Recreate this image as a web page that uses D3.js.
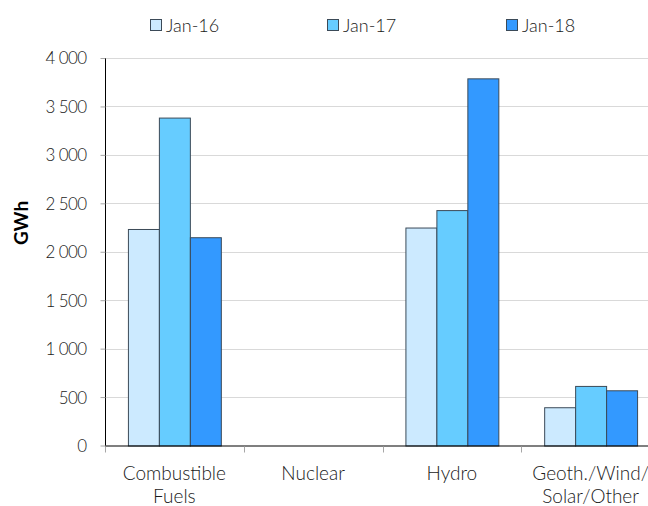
<!DOCTYPE html>
<html><head><meta charset="utf-8">
<script src="https://cdn.jsdelivr.net/npm/d3@7"></script>
<style>
html,body{margin:0;padding:0;background:#fff;}
svg{display:block;}
text{font-family:"Lato","Open Sans",sans-serif;}
</style></head><body>
<svg id="chart" width="648" height="506"></svg>
<script>
const categories = ["Combustible Fuels", "Nuclear", "Hydro", "Geoth./Wind/ Solar/Other"];
const categoryLines = [["Combustible","Fuels"],["Nuclear"],["Hydro"],["Geoth./Wind/","Solar/Other"]];
const series = ["Jan-16", "Jan-17", "Jan-18"];
const jan16 = [2235, 0, 2250, 395];
const jan17 = [3385, 0, 2430, 615];
const jan18 = [2150, 0, 3790, 570];
const yTicks = [0, 500, 1000, 1500, 2000, 2500, 3000, 3500, 4000];
const colors = ["#cceaff", "#66ccff", "#3399ff"];

(function(){
const values = [jan16, jan17, jan18];
const svg = d3.select("#chart");
const mLeft = 105, mRight = 660, mTop = 58, mBottom = 445.5;

const x = d3.scaleBand().domain(categories).range([mLeft, mRight]).paddingInner(0).paddingOuter(0);
const xs = d3.scaleBand().domain(series).range([0, x.bandwidth()]).paddingInner(0).paddingOuter(0.74);
const y = d3.scaleLinear().domain([0, 4000]).range([mBottom, mTop]);
const fmt = d3.formatLocale({decimal: ".", thousands: " ", grouping: [3], currency: ["", ""]}).format(",");

// gridlines
svg.append("g").selectAll("line").data(yTicks.filter(d => d > 0)).join("line")
  .attr("x1", mLeft).attr("x2", 648)
  .attr("y1", d => Math.round(y(d)) + 0.5).attr("y2", d => Math.round(y(d)) + 0.5)
  .attr("stroke", "#d9d9d9").attr("stroke-width", 1.2);

// bars
const rows = [];
categories.forEach((c, i) => series.forEach((s, j) => rows.push({c, s, j, v: values[j][i]})));
svg.append("g").selectAll("rect").data(rows.filter(d => d.v > 0)).join("rect")
  .attr("x", d => x(d.c) + xs(d.s) + 0.5)
  .attr("y", d => y(d.v) + 0.5)
  .attr("width", xs.bandwidth())
  .attr("height", d => y(0) - y(d.v))
  .attr("fill", d => colors[d.j])
  .attr("stroke", "#3b4a58").attr("stroke-width", 1);

// y axis
const yAxis = d3.axisLeft(y).tickValues(yTicks).tickFormat(fmt).tickSize(5).tickPadding(14);
const gy = svg.append("g").attr("transform", `translate(${mLeft + 0.5},0)`).call(yAxis);
gy.select(".domain").attr("stroke", "#000").attr("d", `M0,${mTop}V${mBottom}`);
gy.selectAll(".tick line").attr("stroke", "#a6a6a6");
gy.selectAll(".tick text").attr("font-size", 17).attr("font-weight", 300).attr("fill", "#1a1a1a")
  .attr("letter-spacing", -0.6).attr("dy", "0.35em");

// x axis line and ticks
svg.append("line").attr("x1", mLeft).attr("x2", 648).attr("y1", mBottom + 0.5).attr("y2", mBottom + 0.5)
  .attr("stroke", "#000").attr("stroke-width", 1.2);
svg.append("g").selectAll("line").data(categories).join("line")
  .attr("x1", d => Math.round(x(d)) + 0.5).attr("x2", d => Math.round(x(d)) + 0.5)
  .attr("y1", mBottom + 1).attr("y2", mBottom + 7)
  .attr("stroke", "#a6a6a6");

// category labels
const xl = svg.append("g");
categories.forEach((c, i) => {
  const t = xl.append("text").attr("x", x(c) + x.bandwidth() / 2).attr("y", 480)
    .attr("text-anchor", "middle").attr("font-size", 19).attr("font-weight", 300).attr("fill", "#1a1a1a");
  categoryLines[i].forEach((ln, k) => {
    t.append("tspan").attr("x", x(c) + x.bandwidth() / 2).attr("dy", k === 0 ? 0 : 22.5).text(ln);
  });
});

// y title
svg.append("text").attr("transform", "translate(28,223) rotate(-90)")
  .attr("text-anchor", "middle").attr("font-size", 19).attr("font-weight", 700).attr("fill", "#000")
  .text("GWh");

// legend
const legendX = [150, 327, 506];
const lg = svg.append("g");
series.forEach((s, j) => {
  lg.append("rect").attr("x", legendX[j] + 0.5).attr("y", 19.5).attr("width", 11).attr("height", 11)
    .attr("fill", colors[j]).attr("stroke", "#3b4a58");
  lg.append("text").attr("x", legendX[j] + 16).attr("y", 31.5).attr("font-size", 18).attr("font-weight", 300)
    .attr("fill", "#1a1a1a").text(s);
});
})();
</script>
</body></html>
